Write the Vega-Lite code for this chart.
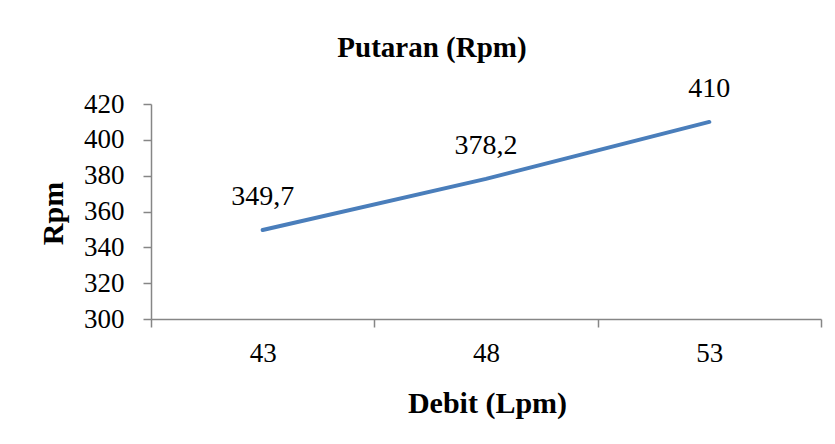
{
  "$schema": "https://vega.github.io/schema/vega-lite/v6.json",
  "autosize": "none",
  "width": 670,
  "height": 215,
  "padding": {"left": 151, "top": 104, "right": 14, "bottom": 125},
  "background": "white",
  "title": {
    "text": "Putaran  (Rpm)",
    "font": "Liberation Serif",
    "fontSize": 29,
    "fontWeight": "bold",
    "color": "#000000",
    "anchor": "middle",
    "frame": "group",
    "dx": -54,
    "baseline": "alphabetic",
    "offset": -11
  },
  "data": {
    "values": [
      {"Debit": 43, "Rpm": 349.7},
      {"Debit": 48, "Rpm": 378.2},
      {"Debit": 53, "Rpm": 410}
    ]
  },
  "encoding": {
    "x": {
      "field": "Debit",
      "type": "ordinal",
      "sort": "ascending",
      "scale": {"paddingInner": 0, "paddingOuter": 0},
      "axis": {
        "title": "Debit (Lpm)",
        "labelAngle": 0,
        "tickBand": "extent",
        "domainColor": "#868686",
        "domainWidth": 1.5,
        "tickColor": "#868686",
        "tickWidth": 1.5,
        "tickSize": 8,
        "labelFont": "Liberation Serif",
        "labelFontSize": 27,
        "labelColor": "#000000",
        "labelBaseline": "top",
        "labelPadding": 13,
        "titleFont": "Liberation Serif",
        "titleFontSize": 30,
        "titleFontWeight": "bold",
        "titleColor": "#000000",
        "titleBaseline": "alphabetic",
        "titleAlign": "center",
        "titleX": 336,
        "titleY": 93,
        "grid": false
      }
    },
    "y": {
      "field": "Rpm",
      "type": "quantitative",
      "scale": {"domain": [300, 420], "nice": false, "zero": false},
      "axis": {
        "title": "Rpm",
        "values": [300, 320, 340, 360, 380, 400, 420],
        "domainColor": "#868686",
        "domainWidth": 1.5,
        "tickColor": "#868686",
        "tickWidth": 1.5,
        "tickSize": 8,
        "labelFont": "Liberation Serif",
        "labelFontSize": 27,
        "labelColor": "#000000",
        "labelPadding": 19,
        "labelBaseline": "middle",
        "titleFont": "Liberation Serif",
        "titleFontSize": 30,
        "titleFontWeight": "bold",
        "titleColor": "#000000",
        "titleAngle": -90,
        "titleAlign": "center",
        "titleBaseline": "alphabetic",
        "titleX": -89,
        "titleY": 109,
        "grid": false
      }
    }
  },
  "layer": [
    {
      "mark": {"type": "line", "color": "#4a7ebb", "strokeWidth": 4, "strokeCap": "round"}
    },
    {
      "mark": {
        "type": "text",
        "font": "Liberation Serif",
        "fontSize": 28,
        "color": "#000000",
        "align": "center",
        "baseline": "alphabetic",
        "dy": -25
      },
      "encoding": {
        "text": {"field": "Rpm", "type": "quantitative", "format": ".4~r"}
      }
    }
  ],
  "config": {
    "view": {"stroke": null},
    "locale": {
      "number": {
        "decimal": ",",
        "thousands": ".",
        "grouping": [3],
        "currency": ["", ""]
      }
    }
  }
}
